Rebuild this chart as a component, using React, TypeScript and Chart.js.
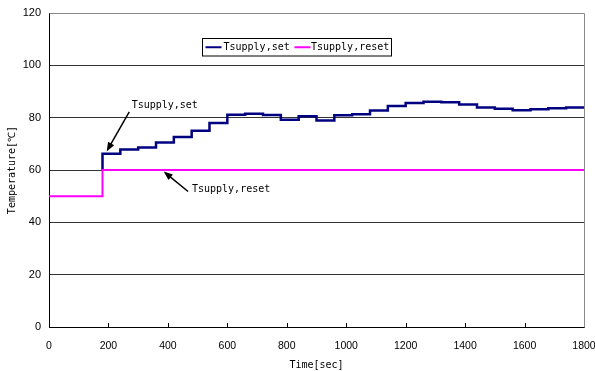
import React, { useEffect, useRef } from "react";
import { Chart, registerables } from "chart.js";

Chart.register(...registerables);

const setTimes = [180, 180, 240, 300, 360, 420, 480, 540, 600, 660, 720, 780, 840, 900, 960, 1020, 1080, 1140, 1200, 1260, 1320, 1380, 1440, 1500, 1560, 1620, 1680, 1740, 1800];
const setValues = [60, 66.2, 67.8, 68.6, 70.5, 72.6, 75.0, 78.0, 81.1, 81.5, 81.0, 79.2, 80.5, 78.9, 80.9, 81.3, 82.7, 84.5, 85.6, 86.1, 85.9, 85.0, 83.9, 83.4, 82.8, 83.2, 83.6, 83.9, 83.9];
const resetTimes = [0, 180, 180, 1800];
const resetValues = [50, 50, 60, 60];

const seriesNames = ["Tsupply,set", "Tsupply,reset"];
const seriesColors = ["#000080", "#FF00FF"];
const xTitle = "Time[sec]";
const yTitle = "Temperature[\u2103]";

// annotations: text, text anchor (data), arrow tail (data), arrow tip (data)
const annTexts = ["Tsupply,set", "Tsupply,reset"];
const annTextPos = [[278, 84.6], [481, 52.6]];
const annTail = [[270, 82.2], [468, 51.8]];
const annTip = [[194, 67.1], [386, 59.4]];

const MONO = "'DejaVu Sans Mono', monospace";
const SANS = "'Liberation Sans Narrow', 'Liberation Sans', Arial, sans-serif";

function drawArrow(ctx: CanvasRenderingContext2D, x1: number, y1: number, x2: number, y2: number) {
  const ang = Math.atan2(y2 - y1, x2 - x1);
  const len = 9;
  const w = 3.5;
  ctx.save();
  ctx.strokeStyle = "#000";
  ctx.fillStyle = "#000";
  ctx.lineWidth = 1.5;
  ctx.beginPath();
  ctx.moveTo(x1, y1);
  ctx.lineTo(x2 - Math.cos(ang) * len * 0.8, y2 - Math.sin(ang) * len * 0.8);
  ctx.stroke();
  ctx.beginPath();
  ctx.moveTo(x2, y2);
  ctx.lineTo(x2 - Math.cos(ang) * len - Math.sin(ang) * w, y2 - Math.sin(ang) * len + Math.cos(ang) * w);
  ctx.lineTo(x2 - Math.cos(ang) * len + Math.sin(ang) * w, y2 - Math.sin(ang) * len - Math.cos(ang) * w);
  ctx.closePath();
  ctx.fill();
  ctx.restore();
}

const decorPlugin = {
  id: "decor",
  afterDatasetsDraw(chart: any) {
    const { ctx, chartArea: ca, scales } = chart;
    const xs = scales.x;
    const ys = scales.y;
    ctx.save();
    // frame top/right
    ctx.strokeStyle = "#8a8a8a";
    ctx.lineWidth = 1;
    ctx.beginPath();
    ctx.moveTo(Math.round(ca.left) + 0.5, Math.round(ca.top) + 0.5);
    ctx.lineTo(Math.round(ca.right) + 0.5, Math.round(ca.top) + 0.5);
    ctx.lineTo(Math.round(ca.right) + 0.5, Math.round(ca.bottom) + 0.5);
    ctx.stroke();
    // x ticks inside
    ctx.strokeStyle = "#000";
    ctx.beginPath();
    for (let v = 200; v < 1800; v += 200) {
      const px = Math.round(xs.getPixelForValue(v)) + 0.5;
      ctx.moveTo(px, ca.bottom);
      ctx.lineTo(px, ca.bottom - 4);
    }
    ctx.stroke();

    // annotations
    ctx.font = "10px " + MONO;
    ctx.fillStyle = "#000";
    ctx.textBaseline = "middle";
    ctx.textAlign = "left";
    for (let i = 0; i < annTexts.length; i++) {
      ctx.fillText(annTexts[i], xs.getPixelForValue(annTextPos[i][0]), ys.getPixelForValue(annTextPos[i][1]));
      drawArrow(
        ctx,
        xs.getPixelForValue(annTail[i][0]),
        ys.getPixelForValue(annTail[i][1]),
        xs.getPixelForValue(annTip[i][0]),
        ys.getPixelForValue(annTip[i][1])
      );
    }

    // legend box
    const bx = ca.left + 153.5;
    const by = ca.top + 25.5;
    const bw = 189;
    const bh = 17.5;
    ctx.fillStyle = "#fff";
    ctx.fillRect(bx, by, bw, bh);
    ctx.strokeStyle = "#000";
    ctx.lineWidth = 1;
    ctx.strokeRect(bx, by, bw, bh);
    const cy = by + bh / 2;
    const items = [
      { lx: bx + 3, tx: bx + 21 },
      { lx: bx + 92, tx: bx + 108.5 },
    ];
    items.forEach((it, i) => {
      ctx.strokeStyle = seriesColors[i];
      ctx.lineWidth = 2;
      ctx.beginPath();
      ctx.moveTo(it.lx, cy);
      ctx.lineTo(it.lx + 16, cy);
      ctx.stroke();
      ctx.fillStyle = "#000";
      ctx.font = "10px " + MONO;
      ctx.textAlign = "left";
      ctx.textBaseline = "middle";
      ctx.fillText(seriesNames[i], it.tx, cy);
    });
    ctx.restore();
  },
};

export default function App() {
  const ref = useRef<HTMLCanvasElement | null>(null);
  useEffect(() => {
    document.body.style.margin = "0";
    const setData = setTimes.map((t, i) => ({ x: t, y: setValues[i] }));
    const resetData = resetTimes.map((t, i) => ({ x: t, y: resetValues[i] }));
    const chart = new Chart(ref.current as HTMLCanvasElement, {
      type: "line",
      data: {
        datasets: [
          {
            label: seriesNames[1],
            data: resetData,
            borderColor: seriesColors[1],
            borderWidth: 2,
            pointRadius: 0,
            stepped: "before",
            fill: false,
          },
          {
            label: seriesNames[0],
            data: setData,
            borderColor: seriesColors[0],
            borderWidth: 2.5,
            pointRadius: 0,
            stepped: "before",
            fill: false,
          },
        ],
      },
      options: {
        animation: false,
        responsive: false,
        maintainAspectRatio: false,
        layout: { padding: { top: 13, right: 11, left: 0, bottom: 0 } },
        plugins: { legend: { display: false }, tooltip: { enabled: false } },
        scales: {
          x: {
            type: "linear",
            min: 0,
            max: 1800,
            ticks: {
              stepSize: 200,
              color: "#000",
              font: { family: SANS, size: 10.5 },
              padding: 13,
              maxRotation: 0,
              callback: (v: any) => String(v),
            },
            grid: { display: false, drawTicks: false },
            border: { display: true, color: "#000", width: 1 },
            title: { display: true, text: xTitle, color: "#000", font: { family: MONO, size: 10 }, padding: { top: 0, bottom: 0 } },
            afterFit: (s: any) => {
              s.height = 44;
              s.paddingLeft = 0;
              s.paddingRight = 0;
            },
          },
          y: {
            type: "linear",
            min: 0,
            max: 120,
            ticks: { stepSize: 20, color: "#000", font: { family: SANS, size: 11 }, padding: 8, callback: (v: any) => String(v) },
            grid: {
              drawTicks: false,
              color: (c: any) => (c.tick && c.tick.value === 120 ? "#8a8a8a" : "#333"),
              lineWidth: 1,
            },
            border: { display: true, color: "#000", width: 1 },
            title: { display: true, text: yTitle, color: "#000", font: { family: MONO, size: 10 }, padding: { top: 6, bottom: 0 } },
            afterFit: (s: any) => {
              s.width = 49;
              s.paddingTop = 0;
              s.paddingBottom = 0;
            },
          },
        },
      },
      plugins: [decorPlugin],
    } as any);
    return () => chart.destroy();
  }, []);
  return (
    <div style={{ width: 595, height: 371, position: "relative", background: "#fff" }}>
      <canvas ref={ref} width={595} height={371} style={{ display: "block" }} />
    </div>
  );
}
